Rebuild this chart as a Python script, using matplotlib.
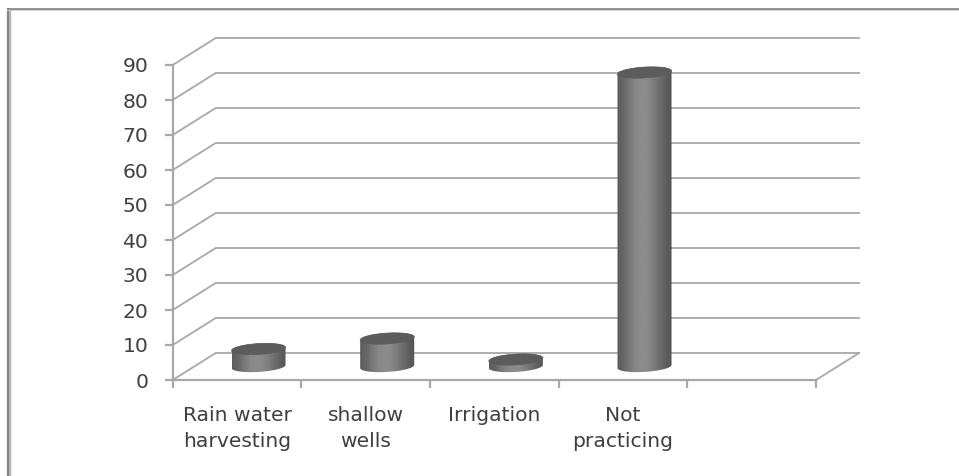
import numpy as np
import matplotlib
matplotlib.use("Agg")
import matplotlib.pyplot as plt
from matplotlib.lines import Line2D
from matplotlib.patches import Polygon

categories = ["Rain water\nharvesting", "shallow\nwells", "Irrigation", "Not\npracticing"]
values = [5, 8, 2, 84]
y_ticks = [0, 10, 20, 30, 40, 50, 60, 70, 80, 90]
n_slots = 5

W, H = 959, 476
LINE = "#a8a8a8"
TEXT = "#404040"
plt.rcParams["font.family"] = ["DejaVu Sans"]

fig = plt.figure(figsize=(W / 100, H / 100), dpi=100, facecolor="white")
# partial frame: only the top and left edges show, running off the picture
def px_line(xs, ys, color, lw):
    fig.add_artist(Line2D([x / W for x in xs], [1 - y / H for y in ys],
                          transform=fig.transFigure, color=color, linewidth=lw,
                          solid_capstyle="butt"))
px_line([8.5, 8.5], [9, H], "#b4b4b4", 3.2)
px_line([8, 8], [8, H], "#858585", 1.4)
px_line([7, W], [10.2, 10.2], "#d0d0d0", 1.2)
px_line([7, W], [8.8, 8.8], "#808080", 1.2)

ax = fig.add_axes([172.7 / W, 1 - 380 / H, 643.3 / W, 315 / H])
ax.set_xlim(0, n_slots)
ax.set_ylim(0, 90)
ax.patch.set_visible(False)
for s in ("top", "right"):
    ax.spines[s].set_visible(False)
for s in ("left", "bottom"):
    ax.spines[s].set_color(LINE)
    ax.spines[s].set_linewidth(1.6)

# depth of the pseudo 3D box, in data units
dx = 43 / (643.3 / n_slots)
dy = 27 / (315 / 90)

for v in y_ticks:
    ax.plot([0, dx, n_slots + dx], [v, v + dy, v + dy], color=LINE, lw=1.3,
            clip_on=False, zorder=1, solid_joinstyle="miter")
ax.plot([n_slots, n_slots + dx], [0, dy], color=LINE, lw=1.3, clip_on=False, zorder=1)

ax.set_yticks(y_ticks)
ax.set_xticks(range(n_slots + 1))
ax.set_xticklabels([])
ax.set_xticks([i + 0.5 for i in range(len(categories))], categories, minor=True)
ax.tick_params(axis="both", which="major", color=LINE, width=1.6, length=5.5)
ax.tick_params(axis="x", which="minor", length=0, pad=18.5, labelsize=14.6, labelcolor=TEXT)
ax.tick_params(axis="y", which="major", pad=12, labelsize=14.6, labelcolor=TEXT)
for lab in ax.get_xticklabels(minor=True):
    lab.set_linespacing(1.5)

# cylinders
half_w = 0.21
b = 1.55
tilt = 0.45
t = np.linspace(0, 2 * np.pi, 121)
shade = np.array([0.36, 0.40, 0.47, 0.53, 0.55, 0.54, 0.49, 0.43, 0.37, 0.33])
xs_g = np.linspace(0, 1, 200)
grad = np.interp(xs_g, np.linspace(0, 1, len(shade)), shade)[None, :]

for i, v in enumerate(values):
    cx = i + 0.5 + dx / 2
    y0 = dy / 2
    y1 = y0 + v
    ex = cx + half_w * np.cos(t)
    ey = b * np.sin(t) + tilt * np.cos(t)
    low = t[60:121]   # pi..2pi
    up = t[0:61]      # 0..pi
    side_x = np.r_[cx + half_w * np.cos(low), cx + half_w * np.cos(up)]
    side_y = np.r_[y0 + b * np.sin(low) + tilt * np.cos(low),
                   y1 + b * np.sin(up) + tilt * np.cos(up)]
    side = Polygon(np.c_[side_x, side_y], closed=True, fc="none", ec="none", zorder=3, clip_on=False)
    ax.add_patch(side)
    im = ax.imshow(grad, extent=[cx - half_w, cx + half_w, y0 - 5, y1 + 5], aspect="auto",
                   cmap="gray", vmin=0, vmax=1, zorder=3, interpolation="bilinear")
    im.set_clip_path(side)
    ax.fill(ex, y1 + ey, color="#5c5c5c", lw=0.5, zorder=4, clip_on=False)

ax.set_xlim(0, n_slots)
ax.set_ylim(0, 90)
fig.savefig("out.png", dpi=100)
